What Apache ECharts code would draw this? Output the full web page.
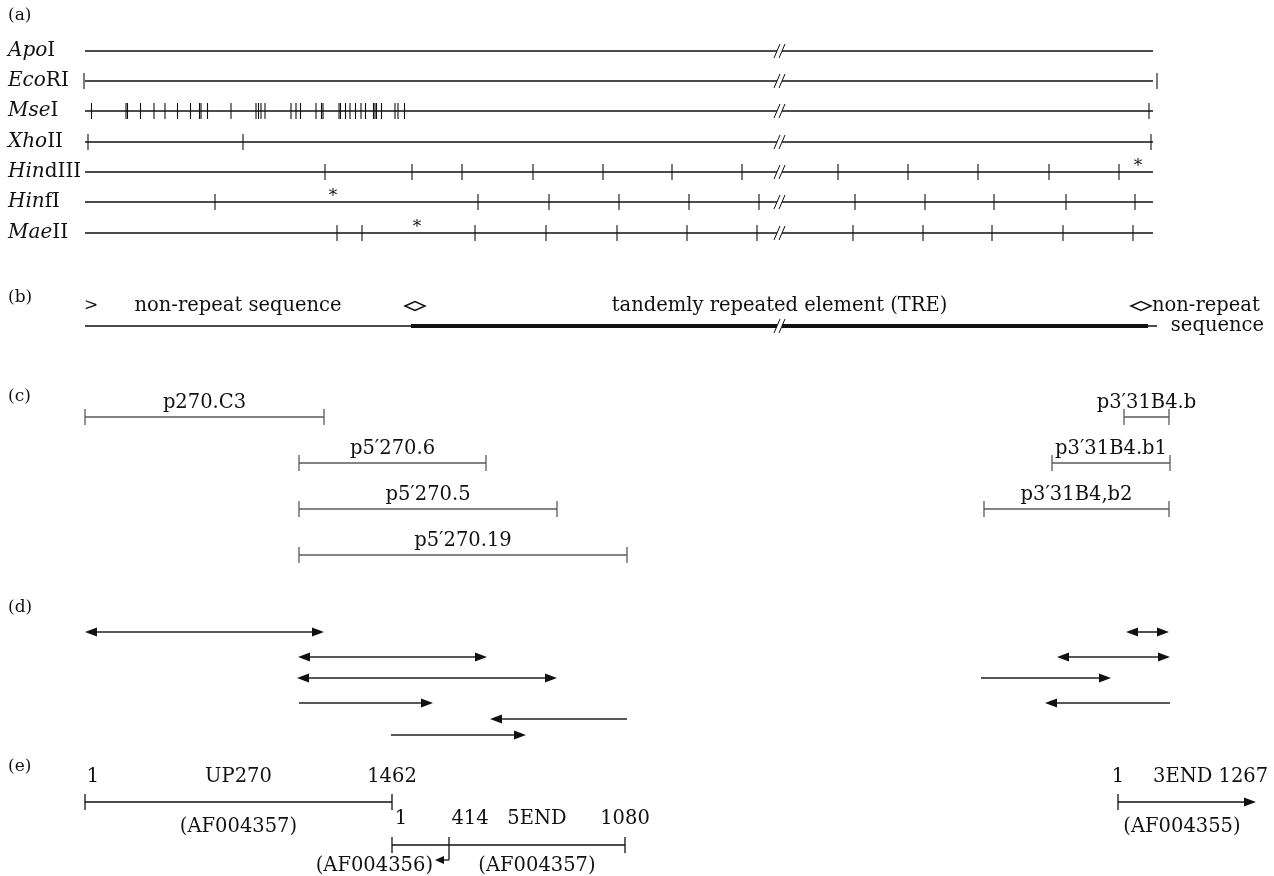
<!DOCTYPE html>
<html>
<head>
<meta charset="utf-8">
<title>Restriction map</title>
<script src="https://cdn.jsdelivr.net/npm/echarts@6/dist/echarts.min.js"></script>
<style>
html,body{margin:0;padding:0;background:#ffffff;}
#chart{width:1274px;height:876px;}
</style>
</head>
<body>
<div id="chart"></div>
<script>
// ================= DATA (positions in map units along the locus, 0 = left end) =================
const enzymeGenus  = ['Apo','Eco','Mse','Xho','Hin','Hin','Mae'];
const enzymeSuffix = ['I','RI','I','II','dIII','fI','II'];
const sitesApoI    = [];
const sitesEcoRI   = [-1, 1072];
const sitesMseI    = [6.5,41,42.5,55.5,69,80,92.5,105.5,114.5,116,122.5,146,171,173.5,176,180,206,211,215.5,231,236.5,238,254,255.5,260.5,265,270.5,276,280.5,288.5,290,291.5,296.5,310,313,319.5,1064];
const sitesXhoII   = [3,158,1066];
const sitesHindIII = [240,327,377,448,518,587,657,753,823,893,964,1034];
const sitesHinfI   = [130,393,464,534,604,674,770,840,909,981,1050];
const sitesMaeII   = [252,277,390,461,532,602,672,768,838,907,978,1048];
const starSites    = [null,null,null,null,1053,248,332];
const mapLength    = 1068;
const breakAt      = 695;

// (b) sequence organisation
const regionNames = ['non-repeat sequence','tandemly repeated element (TRE)'];
const regionStart = [0, 326, 1063];
const regionEnd   = [326, 1063, 1072];
const regionThick = [false, true, false];
const junctions   = [330, 1056];

// (c) clones
const cloneNames = ['p270.C3','p5\u2032270.6','p5\u2032270.5','p5\u2032270.19','p3\u203231B4.b','p3\u203231B4.b1','p3\u203231B4,b2'];
const cloneStart = [0,214,214,214,1039,967,899];
const cloneEnd   = [239,401,472,542,1084,1085,1084];

// (d) sequencing reads
const readStart = [0,213,212,214,405,306,1041,972,896,960];
const readEnd   = [239,402,472,348,542,441,1084,1085,1026,1085];
const readDir   = ['both','both','both','right','left','right','both','both','right','left'];

// (e) database entries
const entryNames  = ['UP270','5END','3END'];
const entryAcc    = ['(AF004357)','(AF004357)','(AF004355)'];
const entryStart  = [0,307,1033];
const entryEnd    = [307,540,1171];
const entryFirst  = ['1','1','1'];
const entryLast   = ['1462','1080','1267'];
const splitAt     = 364;           // position 414 of 5END
const splitLabel  = '414';
const splitAcc    = '(AF004356)';

// ================= LAYOUT (row heights in pixels) =================
const rowA = [51,81,111,142,172,202,233];
const rowB = 326;
const rowC = [417,463,509,555,417,463,509];
const rowD = [632,657,678,703,719,735,632,657,678,703];
const rowE = [802,845,802];
const panelY = {'(a)':16,'(b)':298,'(c)':397,'(d)':608,'(e)':767};

const INK = '#111111';
const GREY = '#5a5a5a';
const FAM = '"DejaVu Serif", "Liberation Serif", serif';
const FS = 19.5;
const sitesAll = [sitesApoI,sitesEcoRI,sitesMseI,sitesXhoII,sitesHindIII,sitesHinfI,sitesMaeII];

function ln(p,q,stroke,w){return {type:'line',shape:{x1:p[0],y1:p[1],x2:q[0],y2:q[1]},style:{stroke:stroke||INK,lineWidth:w||1.5}};}
function txt(x,y,s,align,size,extra){
  const st = Object.assign({text:s,x:x,y:y,fill:INK,fontFamily:FAM,fontSize:size||FS,align:align||'center',verticalAlign:'middle'}, extra||{});
  return {type:'text',style:st};
}
function breakMark(p){
  const x=p[0], y=p[1];
  return [
    {type:'rect',shape:{x:x-3,y:y-3,width:5,height:6},style:{fill:'#fff'}},
    ln([x-6,y+7],[x,y-7],INK,1),
    ln([x-1,y+7],[x+5,y-7],INK,1)
  ];
}
function head(tip,dir,y){
  const L=12,H=4.5;
  return {type:'polygon',shape:{points:[[tip,y],[tip-dir*L,y-H],[tip-dir*L,y+H]]},style:{fill:INK}};
}

// ---- (a) restriction maps
function renderMaps(params, api){
  const i = params.dataIndex, y = rowA[i];
  const ch = [];
  const p0 = api.coord([0,y]), p1 = api.coord([mapLength,y]);
  ch.push(ln(p0,p1,INK,1.5));
  sitesAll[i].forEach(s=>{const p=api.coord([s,y]); ch.push(ln([p[0],p[1]-8],[p[0],p[1]+8],INK,1.1));});
  ch.push.apply(ch, breakMark(api.coord([breakAt,y])));
  if (starSites[i]!=null){const p=api.coord([starSites[i],y]); ch.push(txt(p[0],p[1]-5,'*','center',17));}
  ch.push({type:'text',style:{text:'{i|'+enzymeGenus[i]+'}'+enzymeSuffix[i],x:8,y:p0[1],fill:INK,fontFamily:FAM,fontSize:20,align:'left',verticalAlign:'middle',
    rich:{i:{fontStyle:'italic',fontFamily:FAM,fontSize:20,fill:INK}}}});
  return {type:'group',children:ch};
}

// ---- (b) organisation
function renderOrg(params, api){
  const i = params.dataIndex;
  const p0 = api.coord([regionStart[i],rowB]), p1 = api.coord([regionEnd[i],rowB]);
  const ch = [ln(p0,p1,INK,regionThick[i]?4:1.5)];
  if (regionThick[i]) {
    ch.push.apply(ch, breakMark(api.coord([breakAt,rowB])));
  }
  return {type:'group',children:ch};
}
function renderOrgText(params, api){
  const ch = [];
  const a = api.coord([regionStart[0],rowB]);
  ch.push(txt(a[0]+6,a[1]-20,'>','center',17));
  const m0 = api.coord([(regionStart[0]+regionEnd[0])/2 - 10, rowB]);
  ch.push(txt(m0[0],m0[1]-20,regionNames[0]));
  const m1 = api.coord([(regionStart[1]+regionEnd[1])/2, rowB]);
  ch.push(txt(m1[0],m1[1]-20,regionNames[1]));
  junctions.forEach(j=>{const p=api.coord([j,rowB]); const x=p[0], y=p[1]-20;
    ch.push({type:'polygon',shape:{points:[[x-10,y],[x,y-4.5],[x+10,y],[x,y+4.5]]},style:{fill:'none',stroke:INK,lineWidth:1.5}});});
  const j2 = api.coord([junctions[1],rowB]);
  ch.push(txt(j2[0]+11,j2[1]-20,'non-repeat','left'));
  ch.push(txt(j2[0]+123,j2[1],'sequence','right'));
  return {type:'group',children:ch};
}

// ---- (c) clones
function renderClone(params, api){
  const i = params.dataIndex, y = rowC[i];
  const p0 = api.coord([cloneStart[i],y]), p1 = api.coord([cloneEnd[i],y]);
  return {type:'group',children:[
    ln(p0,p1,GREY,1.5),
    ln([p0[0],y-8],[p0[0],y+8],GREY,1.3),
    ln([p1[0],y-8],[p1[0],y+8],GREY,1.3),
    txt((p0[0]+p1[0])/2, y-14, cloneNames[i])
  ]};
}

// ---- (d) reads
function renderRead(params, api){
  const i = params.dataIndex, y = rowD[i];
  const p0 = api.coord([readStart[i],y]), p1 = api.coord([readEnd[i],y]);
  const d = readDir[i];
  const xa = (d==='both'||d==='left') ? p0[0]+10 : p0[0];
  const xb = (d==='both'||d==='right') ? p1[0]-10 : p1[0];
  const ch = [ln([xa,y],[xb,y],'#222',1.6)];
  if (d==='both'||d==='right') ch.push(head(p1[0],1,y));
  if (d==='both'||d==='left') ch.push(head(p0[0],-1,y));
  return {type:'group',children:ch};
}

// ---- (e) entries
function renderEntry(params, api){
  const i = params.dataIndex, y = rowE[i];
  const p0 = api.coord([entryStart[i],y]), p1 = api.coord([entryEnd[i],y]);
  const ch = [];
  if (i===2){
    ch.push(ln(p0,[p1[0]-10,y],INK,1.5));
    ch.push(head(p1[0],1,y));
    ch.push(ln([p0[0],y-8],[p0[0],y+8],INK,1.3));
    ch.push(txt(p0[0],y-25,entryFirst[i],'center'));
    ch.push(txt(p0[0]+35,y-25,entryNames[i]+' '+entryLast[i],'left'));
    ch.push(txt(p0[0]+64,y+25,entryAcc[i],'center'));
  } else if (i===0){
    ch.push(ln(p0,p1,INK,1.5));
    ch.push(ln([p0[0],y-8],[p0[0],y+8],INK,1.3));
    ch.push(ln([p1[0],y-8],[p1[0],y+8],INK,1.3));
    ch.push(txt(p0[0]+8,y-25,entryFirst[i]));
    ch.push(txt((p0[0]+p1[0])/2,y-25,entryNames[i]));
    ch.push(txt(p1[0],y-25,entryLast[i]));
    ch.push(txt((p0[0]+p1[0])/2,y+25,entryAcc[i]));
  } else {
    const ps = api.coord([splitAt,y]);
    ch.push(ln(p0,p1,INK,1.5));
    ch.push(ln([p0[0],y-8],[p0[0],y+8],INK,1.3));
    ch.push(ln([p1[0],y-8],[p1[0],y+8],INK,1.3));
    ch.push(ln([ps[0],y-8],[ps[0],y+15],INK,1.3));
    ch.push(ln([ps[0],y+15],[ps[0]-6,y+15],INK,1.3));
    ch.push({type:'polygon',shape:{points:[[ps[0]-14,y+15],[ps[0]-5,y+11],[ps[0]-5,y+19]]},style:{fill:INK}});
    ch.push(txt(p0[0]+9,y-26,entryFirst[i]));
    ch.push(txt(ps[0]+21,y-26,splitLabel));
    ch.push(txt((ps[0]+p1[0])/2,y-26,entryNames[i]));
    ch.push(txt(p1[0],y-26,entryLast[i]));
    ch.push(txt(ps[0]-16,y+21,splitAcc,'right'));
    ch.push(txt((ps[0]+p1[0])/2,y+21,entryAcc[i]));
  }
  return {type:'group',children:ch};
}

function renderPanels(params, api){
  const ch = Object.keys(panelY).map(k=>txt(8,panelY[k],k,'left',17));
  return {type:'group',children:ch};
}

const chart = echarts.init(document.getElementById('chart'), null, {renderer:'canvas'});
const idx = n => Array.from({length:n},(_, i)=>[i]);
chart.setOption({
  backgroundColor:'#ffffff',
  animation:false,
  grid:{left:85,right:121,top:0,bottom:0,containLabel:false},
  xAxis:{type:'value',min:0,max:mapLength,show:false},
  yAxis:{type:'value',min:0,max:876,inverse:true,show:false},
  series:[
    {type:'custom',name:'maps',data:idx(enzymeGenus.length),renderItem:renderMaps,clip:false,silent:true},
    {type:'custom',name:'organisation',data:idx(regionStart.length),renderItem:renderOrg,clip:false,silent:true},
    {type:'custom',name:'orgText',data:[[0]],renderItem:renderOrgText,clip:false,silent:true},
    {type:'custom',name:'clones',data:idx(cloneNames.length),renderItem:renderClone,clip:false,silent:true},
    {type:'custom',name:'reads',data:idx(readStart.length),renderItem:renderRead,clip:false,silent:true},
    {type:'custom',name:'entries',data:idx(entryNames.length),renderItem:renderEntry,clip:false,silent:true},
    {type:'custom',name:'panels',data:[[0]],renderItem:renderPanels,clip:false,silent:true}
  ]
});
</script>
</body>
</html>
